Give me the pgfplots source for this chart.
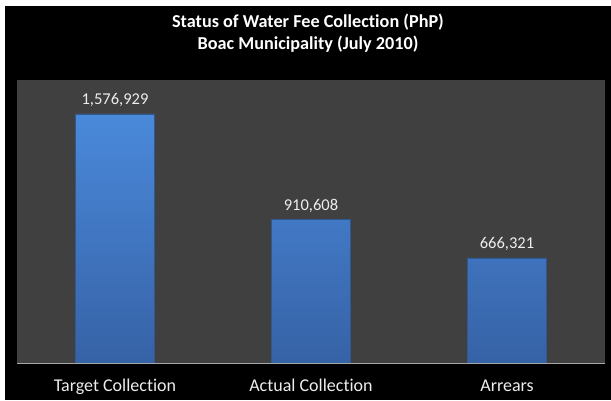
\documentclass[border=0pt]{standalone}
\usepackage{pgfplots}
\pgfplotsset{compat=1.18}
\usepackage{fontspec}
\setmainfont{Carlito}[Ligatures=NoCommon]
\definecolor{plotbg}{HTML}{404040}
\definecolor{bartop}{HTML}{4A89DA}
\definecolor{barbot}{HTML}{3662A6}
\definecolor{baredge}{HTML}{2F5890}
\definecolor{lbl}{HTML}{EDEDED}
\begin{document}
\begin{tikzpicture}[x=1pt,y=1pt]
\fill[white] (0,0) rectangle (611,400);
\fill[black] (5,0) rectangle (611,394);
\node[anchor=base,text=white,font=\fontsize{18.2}{22}\selectfont\bfseries] at (308,372) {Status of Water Fee Collection (PhP)};
\node[anchor=base,text=white,font=\fontsize{18.2}{22}\selectfont\bfseries] at (308,350) {Boac Municipality (July 2010)};
\begin{axis}[
  at={(17pt,37pt)}, anchor=south west,
  width=588pt, height=283pt, scale only axis,
  xmin=-0.5, xmax=2.5, ymin=0, ymax=1792000,
  axis background/.style={fill=plotbg},
  axis line style={draw=none},
  ytick=\empty,
  xtick={0,1,2},
  xticklabels={Target Collection,Actual Collection,Arrears},
  major tick length=0pt,
  xticklabel style={text=lbl,font=\fontsize{18}{20}\selectfont,anchor=base,yshift=-28pt},
  /pgf/number format/.cd, fixed, precision=0, 1000 sep={,}, assume math mode=true,
  /pgfplots/.cd,
  nodes near coords,
  every node near coord/.append style={text=lbl,font=\fontsize{16.5}{20}\selectfont,anchor=base,yshift=9pt},
  clip=false,
]
\addplot[ybar, bar width=79pt, draw=baredge, top color=bartop, bottom color=barbot]
  coordinates {(0,1576929) (1,910608) (2,666321)};
\draw[gray!70] (axis cs:-0.5,0) -- (axis cs:2.5,0);
\end{axis}
\end{tikzpicture}
\end{document}
